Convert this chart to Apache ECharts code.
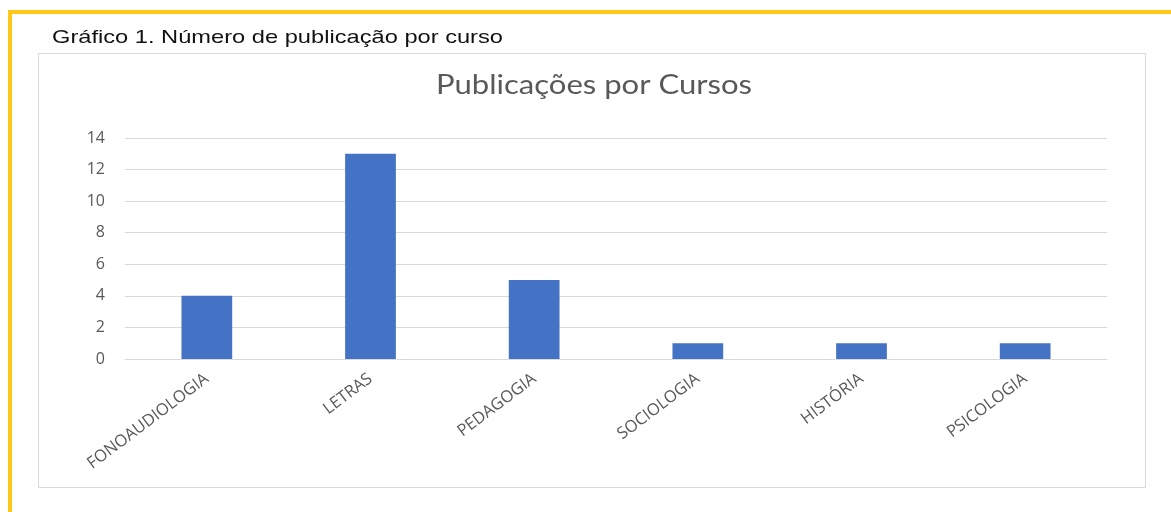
<!DOCTYPE html>
<html>
<head>
<meta charset="utf-8">
<script src="https://cdn.jsdelivr.net/npm/echarts@6/dist/echarts.min.js"></script>
<style>
  html, body { margin: 0; padding: 0; background: #fff; }
  #chart { width: 1171px; height: 512px; }
</style>
</head>
<body>
<div id="chart"></div>
<script>
const cursos = ['FONOAUDIOLOGIA', 'LETRAS', 'PEDAGOGIA', 'SOCIOLOGIA', 'HISTÓRIA', 'PSICOLOGIA']
const publicacoes = [4, 13, 5, 1, 1, 1]
const yTicks = [0, 2, 4, 6, 8, 10, 12, 14]

const chart = echarts.init(document.getElementById('chart'))

chart.setOption({
  animation: false,
  graphic: [
    // yellow frame (top + left)
    { type: 'rect', shape: { x: 8, y: 10, width: 1163, height: 4 }, style: { fill: '#FFC819' }, silent: true },
    { type: 'rect', shape: { x: 8, y: 10, width: 4, height: 502 }, style: { fill: '#FFC819' }, silent: true },
    // caption (original picture is stretched sideways, hence scaleX)
    {
      type: 'text',
      x: 52,
      y: 28,
      scaleX: 1.245,
      style: {
        text: 'Gráfico 1. Número de publicação por curso',
        font: '19px "Liberation Sans", Arial, sans-serif',
        fill: '#111'
      }
    },
    // chart title
    {
      type: 'text',
      x: 594,
      y: 72,
      scaleX: 1.15,
      style: {
        text: 'Publicações por Cursos',
        font: '27px Lato, sans-serif',
        fill: '#595959',
        align: 'center'
      }
    },
    // chart box
    {
      type: 'rect',
      z: -1,
      shape: { x: 38.5, y: 53.5, width: 1107, height: 434 },
      style: { fill: '#fff', stroke: '#d9d9d9', lineWidth: 1 },
      silent: true
    }
  ],
  grid: { left: 125, right: 64, top: 138, bottom: 153 },
  xAxis: {
    type: 'category',
    data: cursos,
    axisLine: { lineStyle: { color: '#d9d9d9' } },
    axisTick: { show: false },
    axisLabel: {
      rotate: 37,
      margin: 18,
      color: '#595959',
      fontFamily: 'Open Sans',
      fontSize: 16.5,
      interval: 0
    }
  },
  yAxis: {
    type: 'value',
    min: yTicks[0],
    max: yTicks[yTicks.length - 1],
    interval: 2,
    axisLine: { show: false },
    axisTick: { show: false },
    axisLabel: {
      color: '#595959',
      fontFamily: 'Open Sans',
      fontSize: 16,
      margin: 20
    },
    splitLine: { lineStyle: { color: '#d9d9d9', width: 1 } }
  },
  series: [
    {
      type: 'bar',
      data: publicacoes,
      barWidth: '31%',
      itemStyle: { color: '#4472C4' }
    }
  ]
})
</script>
</body>
</html>
